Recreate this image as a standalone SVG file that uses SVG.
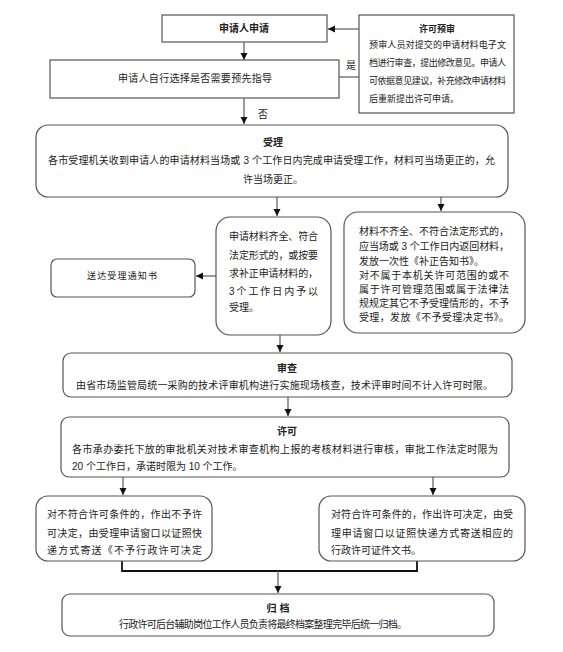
<svg xmlns="http://www.w3.org/2000/svg" width="563" height="652" viewBox="0 0 563 652">
<style>
  .box{fill:#fff;stroke:#555;stroke-width:1.2}
  .t{font-family:"Liberation Sans","Noto Sans CJK SC",sans-serif;font-size:10px;fill:#222}
  .s{font-size:9px}
  .c{text-anchor:middle}
  .b{font-weight:bold}
  .ln{fill:none;stroke:#666;stroke-width:1.3}
  .lb{fill:none;stroke:#111;stroke-width:1.8}
</style>
<defs>
  <marker id="ah" markerWidth="8" markerHeight="8" refX="7" refY="4" orient="auto" markerUnits="userSpaceOnUse">
    <path d="M0,0.5 L7,4 L0,7.5 Z" fill="#111"/>
  </marker>
</defs>
<rect width="563" height="652" fill="#fff"/>

<g id="connectors">
  <line class="ln" x1="359" y1="29" x2="328" y2="29" marker-end="url(#ah)"/>
  <line class="ln" x1="339" y1="77" x2="359" y2="77"/>
  <line class="ln" x1="244" y1="42" x2="244" y2="60" marker-end="url(#ah)"/>
  <line class="ln" x1="244" y1="98" x2="244" y2="124" marker-end="url(#ah)"/>
  <line class="ln" x1="277" y1="197" x2="277" y2="216" marker-end="url(#ah)"/>
  <line class="ln" x1="441" y1="197" x2="441" y2="211" marker-end="url(#ah)"/>
  <line class="ln" x1="216" y1="276" x2="196" y2="276" marker-end="url(#ah)"/>
  <line class="ln" x1="280" y1="335" x2="280" y2="352" marker-end="url(#ah)"/>
  <line class="ln" x1="288" y1="397" x2="288" y2="416" marker-end="url(#ah)"/>
  <line class="ln" x1="123" y1="477" x2="123" y2="495" marker-end="url(#ah)"/>
  <line class="ln" x1="433" y1="477" x2="433" y2="495" marker-end="url(#ah)"/>
  <polyline class="lb" points="122,561 122,571 417,571 417,561"/>
  <line class="ln" x1="278" y1="571" x2="278" y2="593" marker-end="url(#ah)"/>
  <text class="t" x="346" y="69" fill="#223">是</text>
  <text class="t" x="258" y="118" fill="#223">否</text>
</g>

<g id="n1">
  <rect class="box" x="162" y="15" width="165" height="27"/>
  <text class="t c b" x="244" y="32">申请人申请</text>
</g>

<g id="n2">
  <rect class="box" x="359" y="15" width="155" height="98"/>
  <text class="t s c b" x="437" y="32">许可预审</text>
  <text class="t s" x="369" y="48" textLength="137">预审人员对提交的申请材料电子文</text>
  <text class="t s" x="369" y="66" textLength="137">档进行审查，提出修改意见。申请人</text>
  <text class="t s" x="369" y="84" textLength="137">可依据意见建议，补充修改申请材料</text>
  <text class="t s" x="369" y="102">后重新提出许可申请。</text>
</g>

<g id="n3">
  <rect class="box" x="50" y="60" width="289" height="38"/>
  <text class="t c" x="195" y="82" textLength="154">申请人自行选择是否需要预先指导</text>
</g>

<g id="n4">
  <rect class="box" x="36" y="125" width="472" height="72" rx="12"/>
  <text class="t c b" x="273" y="146">受理</text>
  <text class="t" x="48" y="164" textLength="447">各市受理机关收到申请人的申请材料当场或 3 个工作日内完成申请受理工作，材料可当场更正的，允</text>
  <text class="t c" x="273" y="183">许当场更正。</text>
</g>

<g id="n5">
  <rect class="box" x="51" y="259" width="144" height="38" rx="6"/>
  <text class="t s" x="87" y="279" textLength="70">送达受理通知书</text>
</g>

<g id="n6">
  <rect class="box" x="216" y="217" width="115" height="118" rx="14"/>
  <text class="t" x="229" y="240" textLength="89">申请材料齐全、符合</text>
  <text class="t" x="229" y="259" textLength="89">法定形式的，或按要</text>
  <text class="t" x="229" y="277" textLength="89">求补正申请材料的，</text>
  <text class="t" x="229" y="295" textLength="89">3 个 工 作 日 内 予 以</text>
  <text class="t" x="229" y="311">受理。</text>
</g>

<g id="n7">
  <rect class="box" x="344" y="212" width="181" height="121" rx="14"/>
  <text class="t" x="359" y="235" textLength="150">材料不齐全、不符合法定形式的，</text>
  <text class="t" x="359" y="250" textLength="150">应当场或 3 个工作日内返回材料，</text>
  <text class="t" x="359" y="265">发放一次性《补正告知书》。</text>
  <text class="t" x="359" y="279" textLength="150">对不属于本机关许可范围的或不</text>
  <text class="t" x="359" y="293" textLength="150">属于许可管理范围或属于法律法</text>
  <text class="t" x="359" y="307" textLength="150">规规定其它不予受理情形的，不予</text>
  <text class="t" x="359" y="321" textLength="150">受理，发放《不予受理决定书》。</text>
</g>

<g id="n8">
  <rect class="box" x="63" y="353" width="449" height="44" rx="8"/>
  <text class="t c b" x="287" y="372">审查</text>
  <text class="t" x="76" y="389" textLength="417">由省市场监管局统一采购的技术评审机构进行实施现场核查，技术评审时间不计入许可时限。</text>
</g>

<g id="n9">
  <rect class="box" x="61" y="417" width="448" height="60" rx="8"/>
  <text class="t c b" x="287" y="435">许可</text>
  <text class="t" x="72" y="453" textLength="426">各市承办委托下放的审批机关对技术审查机构上报的考核材料进行审核，审批工作法定时限为</text>
  <text class="t" x="72" y="470">20 个工作日，承诺时限为 10 个工作。</text>
</g>

<g id="n10">
  <rect class="box" x="36" y="496" width="176" height="65" rx="12"/>
  <text class="t" x="47" y="518" textLength="155">对不符合许可条件的，作出不予许</text>
  <text class="t" x="47" y="537" textLength="155">可决定，由受理申请窗口以证照快</text>
  <text class="t" x="47" y="554" textLength="155">递方式寄送《不予行政许可决定</text>
</g>

<g id="n11">
  <rect class="box" x="319" y="496" width="206" height="65" rx="12"/>
  <text class="t" x="331" y="518" textLength="182">对符合许可条件的，作出许可决定，由受</text>
  <text class="t" x="331" y="537" textLength="182">理申请窗口以证照快递方式寄送相应的</text>
  <text class="t" x="331" y="554">行政许可证件文书。</text>
</g>

<g id="n12">
  <rect class="box" x="62" y="594" width="432" height="42" rx="8"/>
  <text class="t c b" x="278" y="612">归 档</text>
  <text class="t" x="119" y="628" textLength="288">行政许可后台辅助岗位工作人员负责将最终档案整理完毕后统一归档。</text>
</g>
</svg>
